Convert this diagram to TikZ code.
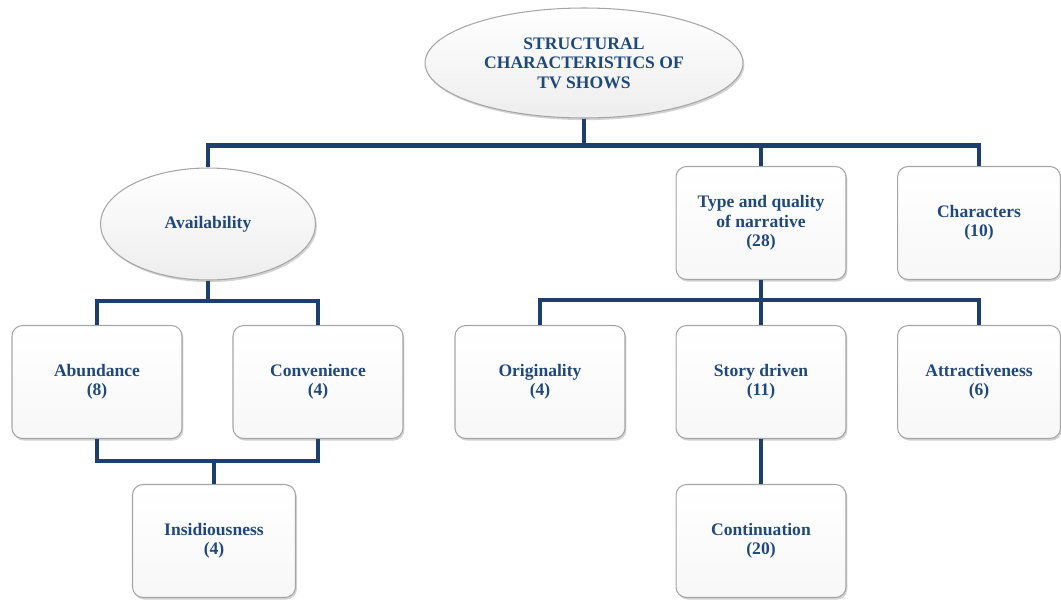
\documentclass[tikz,border=0pt]{standalone}
\usepackage[dvipsnames]{xcolor}
\usepackage{fontspec}
\setmainfont{Liberation Serif}
\usepackage{tikz}
\usetikzlibrary{positioning,calc,shapes.geometric,shadows}
\definecolor{txtblue}{RGB}{31,73,125}
\definecolor{lineblue}{RGB}{31,62,112}

\begin{document}
\begin{tikzpicture}[x=0.02cm,y=-0.02cm,
  every node/.style={align=center,text=txtblue,
                     font=\fontsize{10}{11}\selectfont\bfseries},
  catbox/.style={draw=gray!70,line width=0.6pt,rounded corners=6pt,
                 top color=white,bottom color=gray!6,
                 minimum width=3.4cm,minimum height=2.26cm,
                 drop shadow={opacity=0.35,shadow xshift=0.8pt,shadow yshift=-1.2pt}},
  catoval/.style={ellipse,draw=gray!70,line width=0.6pt,
                  top color=white,bottom color=gray!14,
                  drop shadow={opacity=0.35,shadow xshift=0.8pt,shadow yshift=-1.2pt}},
  link/.style={draw=lineblue,line width=2.3pt}]
\useasboundingbox (0,0) rectangle (1061,602);

\node (top)   [catoval,minimum width=6.36cm,minimum height=2.2cm] at (584,63)
      {STRUCTURAL\\CHARACTERISTICS OF\\TV SHOWS};
\node (avail) [catoval,minimum width=4.3cm,minimum height=2.24cm] at (208,224) {Availability};
\node (narr)  [catbox] at (761,223) {Type and quality\\of narrative\\(28)};
\node (chars) [catbox,minimum width=3.26cm] at (979,223) {Characters\\(10)};

\node (abund) [catbox] at (97,382)  {Abundance\\(8)};
\node (conv)  [catbox] at (318,382) {Convenience\\(4)};
\node (insid) [catbox,minimum width=3.26cm] at (214,541) {Insidiousness\\(4)};

\node (orig)  [catbox] at (540,382) {Originality\\(4)};
\node (story) [catbox] at (761,382) {Story driven\\(11)};
\node (attr)  [catbox,minimum width=3.26cm] at (979,382) {Attractiveness\\(6)};
\node (cont)  [catbox] at (761,541) {Continuation\\(20)};

% tree links
\draw[link] (top.south) -- ++(0,27) -| (avail.north);
\draw[link] (top.south) -- ++(0,27) -| (narr.north);
\draw[link] (top.south) -- ++(0,27) -| (chars.north);

\draw[link] (avail.south) -- ++(0,20) -| (abund.north);
\draw[link] (avail.south) -- ++(0,20) -| (conv.north);
\draw[link] (abund.south) -- ++(0,22) -| (conv.south);
\draw[link] (insid.north) -- ++(0,-24);

\draw[link] (narr.south) -- ++(0,20) -| (orig.north);
\draw[link] (narr.south) -- ++(0,20) -| (story.north);
\draw[link] (narr.south) -- ++(0,20) -| (attr.north);
\draw[link] (story.south) -- (cont.north);
\end{tikzpicture}
\end{document}
